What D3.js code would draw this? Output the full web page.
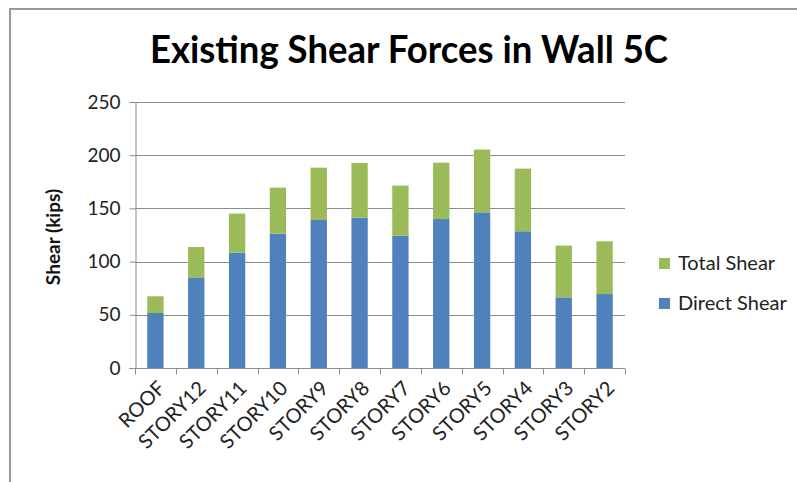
<!DOCTYPE html>
<html>
<head>
<meta charset="utf-8">
<script src="https://cdn.jsdelivr.net/npm/d3@7"></script>
<style>
  body { margin: 0; background: #fff; }
  svg { font-family: "Lato", "Open Sans", sans-serif; }
</style>
</head>
<body>
<div id="chart"></div>
<script>
// data
var stories = ["ROOF", "STORY12", "STORY11", "STORY10", "STORY9", "STORY8",
  "STORY7", "STORY6", "STORY5", "STORY4", "STORY3", "STORY2"];
var directShear = [51.7, 85.2, 108.4, 126.3, 139.1, 141.3, 124.4, 140.0, 146.3, 128.5, 66.4, 69.5];
var totalShear = [67.4, 113.7, 145.1, 169.5, 188.3, 192.7, 171.4, 193.0, 205.3, 187.4, 115.0, 119.1];
var yTicks = [0, 50, 100, 150, 200, 250];

var width = 797, height = 482;
var margin = {left: 135, right: 172, top: 102, bottom: 114}; // plot area 135..625, 102..368

var blue = "#4f81bd", green = "#9bbb59";

var svg = d3.select("#chart").append("svg")
  .attr("width", width)
  .attr("height", height);

// chart frame
svg.append("rect")
  .attr("x", 10).attr("y", 9)
  .attr("width", width + 20).attr("height", height + 20)
  .attr("fill", "none")
  .attr("stroke", "#9a9a9a")
  .attr("stroke-width", 2);

var x = d3.scaleBand()
  .domain(stories)
  .range([margin.left, width - margin.right])
  .paddingInner(0.6)
  .paddingOuter(0.3);

var y = d3.scaleLinear()
  .domain([0, 250])
  .range([height - margin.bottom, margin.top]);

// gridlines
svg.append("g")
  .selectAll("line")
  .data(yTicks.slice(1))
  .enter().append("line")
  .attr("x1", margin.left)
  .attr("x2", width - margin.right)
  .attr("y1", function(d) { return Math.round(y(d)) + 0.5; })
  .attr("y2", function(d) { return Math.round(y(d)) + 0.5; })
  .attr("stroke", "#8c8c8c");

// direct shear (bottom segment)
svg.append("g")
  .selectAll("rect")
  .data(stories)
  .enter().append("rect")
  .attr("x", function(d) { return x(d); })
  .attr("width", x.bandwidth())
  .attr("y", function(d, i) { return y(directShear[i]); })
  .attr("height", function(d, i) { return y(0) - y(directShear[i]); })
  .attr("fill", blue);

// total shear (top segment, stacked on the direct part)
svg.append("g")
  .selectAll("rect")
  .data(stories)
  .enter().append("rect")
  .attr("x", function(d) { return x(d); })
  .attr("width", x.bandwidth())
  .attr("y", function(d, i) { return y(totalShear[i]); })
  .attr("height", function(d, i) { return y(directShear[i]) - y(totalShear[i]); })
  .attr("fill", green);

// y axis
var yAxis = svg.append("g")
  .attr("transform", "translate(" + (margin.left + 0.5) + ",0)")
  .call(d3.axisLeft(y).tickValues(yTicks).tickSizeOuter(0).tickSize(6).tickPadding(9));
yAxis.select(".domain").attr("stroke", "#8c8c8c");
yAxis.selectAll(".tick line").attr("stroke", "#8c8c8c");
yAxis.selectAll(".tick text")
  .attr("fill", "#222")
  .style("font-size", "19px")
  .style("font-family", "Lato, sans-serif");

// x axis, ticks sit between the categories
var xAxisG = svg.append("g")
  .attr("transform", "translate(0," + (Math.round(y(0)) + 0.5) + ")");
xAxisG.append("line")
  .attr("x1", margin.left).attr("x2", width - margin.right)
  .attr("stroke", "#8c8c8c");
var step = (width - margin.left - margin.right) / stories.length;
xAxisG.selectAll(".sep")
  .data(d3.range(stories.length + 1))
  .enter().append("line")
  .attr("class", "sep")
  .attr("x1", function(i) { return Math.round(margin.left + i * step) + 0.5; })
  .attr("x2", function(i) { return Math.round(margin.left + i * step) + 0.5; })
  .attr("y1", 0).attr("y2", 6)
  .attr("stroke", "#8c8c8c");

xAxisG.selectAll(".lab")
  .data(stories)
  .enter().append("text")
  .attr("class", "lab")
  .attr("text-anchor", "end")
  .attr("transform", function(d) {
    return "translate(" + (x(d) + x.bandwidth() / 2 + 11) + ",21) rotate(-45)";
  })
  .style("font-size", "20px")
  .attr("fill", "#222")
  .text(function(d) { return d; });

// y axis title
svg.append("text")
  .attr("transform", "translate(60," + 237 + ") rotate(-90)")
  .attr("text-anchor", "middle")
  .style("font-size", "19px")
  .style("font-weight", "bold")
  .attr("fill", "#111")
  .text("Shear (kips)");

// chart title
svg.append("text")
  .attr("x", 409)
  .attr("y", 63)
  .attr("text-anchor", "middle")
  .attr("textLength", 518)
  .attr("lengthAdjust", "spacingAndGlyphs")
  .style("font-size", "38px")
  .style("font-weight", "bold")
  .attr("fill", "#000")
  .text("Existing Shear Forces in Wall 5C");

// legend
var legendItems = [{name: "Total Shear", color: green}, {name: "Direct Shear", color: blue}];
var legend = svg.selectAll(".legend")
  .data(legendItems)
  .enter().append("g")
  .attr("class", "legend")
  .attr("transform", function(d, i) { return "translate(659," + (263 + i * 40) + ")"; });
legend.append("rect")
  .attr("x", 0).attr("y", -5)
  .attr("width", 11).attr("height", 11)
  .attr("fill", function(d) { return d.color; });
legend.append("text")
  .attr("x", 19).attr("y", 7)
  .style("font-size", "20px")
  .attr("fill", "#222")
  .text(function(d) { return d.name; });
</script>
</body>
</html>
